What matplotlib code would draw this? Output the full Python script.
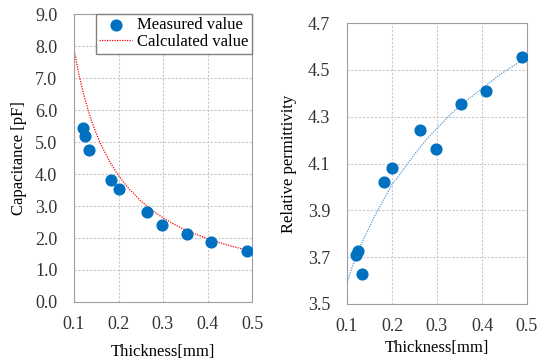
import matplotlib.pyplot as plt

plt.rcParams['font.family'] = ['Liberation Serif', 'DejaVu Serif']

# measured data
thickness = [0.120, 0.125, 0.133, 0.183, 0.200, 0.263, 0.298, 0.353, 0.408, 0.488]
capacitance = [5.45, 5.20, 4.75, 3.80, 3.52, 2.80, 2.42, 2.13, 1.88, 1.60]
permittivity = [3.71, 3.725, 3.63, 4.02, 4.08, 4.245, 4.16, 4.355, 4.41, 4.555]

# calculated curve
calc_x = [0.10, 0.11, 0.12, 0.13, 0.14, 0.15, 0.16, 0.18, 0.20, 0.22, 0.25,
          0.28, 0.30, 0.33, 0.36, 0.40, 0.44, 0.48, 0.50]
calc_c = [7.90, 7.18, 6.58, 6.08, 5.64, 5.27, 4.94, 4.39, 3.95, 3.59, 3.16,
          2.82, 2.63, 2.39, 2.19, 1.98, 1.80, 1.65, 1.58]

# trend line on the right chart
trend_x = [0.10, 0.11, 0.12, 0.13, 0.14, 0.15, 0.16, 0.18, 0.20, 0.22, 0.25,
           0.28, 0.30, 0.33, 0.36, 0.40, 0.44, 0.48, 0.50]
trend_y = [3.59, 3.65, 3.70, 3.75, 3.79, 3.83, 3.87, 3.94, 4.01, 4.06, 4.14,
           4.21, 4.25, 4.31, 4.36, 4.42, 4.48, 4.53, 4.56]

blue = '#0070C0'
grid_kw = dict(color='#c8c8c8', linestyle=(0, (2, 1.5)), linewidth=0.8)

fig = plt.figure(figsize=(5.39, 3.64), dpi=100)
ax1 = fig.add_axes([74 / 539, 1 - 302 / 364, 178 / 539, 288 / 364])
ax2 = fig.add_axes([347 / 539, 1 - 304 / 364, 180 / 539, 281 / 364])

ax1.scatter(thickness, capacitance, s=60, color=blue, zorder=3, label='Measured value')
ax1.plot(calc_x, calc_c, color='red', linestyle=(0, (1, 1)), linewidth=0.9,
         label='Calculated value', zorder=2)
ax1.set_xlim(0.1, 0.5)
ax1.set_ylim(0.0, 9.0)
ax1.set_xticks([0.1, 0.2, 0.3, 0.4, 0.5])
ax1.set_yticks([i * 1.0 for i in range(10)])
ax1.set_yticklabels([f'{i:.1f}' for i in range(10)])
ax1.set_xlabel('Thickness[mm]', fontsize=12, labelpad=8)
ax1.set_ylabel('Capacitance [pF]', fontsize=12, labelpad=6)
ax1.legend(loc='upper right', fontsize=12, frameon=True, fancybox=False,
           edgecolor='#808080', borderaxespad=0, handlelength=2.0,
           handletextpad=0.3, borderpad=0.2, labelspacing=0.05,
           framealpha=1)

ax2.scatter(thickness, permittivity, s=60, color=blue, zorder=3)
ax2.plot(trend_x, trend_y, color='#5b9bd5', linestyle=(0, (1, 1)), linewidth=0.9, zorder=2)
ax2.set_xlim(0.1, 0.5)
ax2.set_ylim(3.5, 4.7)
ax2.set_xticks([0.1, 0.2, 0.3, 0.4, 0.5])
ax2.set_yticks([3.5, 3.7, 3.9, 4.1, 4.3, 4.5, 4.7])
ax2.set_xlabel('Thickness[mm]', fontsize=12, labelpad=4)
ax2.set_ylabel('Relative permittivity', fontsize=12, labelpad=8)

for ax in (ax1, ax2):
    ax.grid(True, **grid_kw)
    ax.set_axisbelow(True)
    for sp in ax.spines.values():
        sp.set_color('#a0a0a0')
        sp.set_linewidth(0.8)
    ax.tick_params(axis='both', labelsize=13, length=0, colors='#333333')
    ax.tick_params(axis='y', pad=12)
    ax.tick_params(axis='x', pad=10)

fig.savefig('out.png', dpi=100)
